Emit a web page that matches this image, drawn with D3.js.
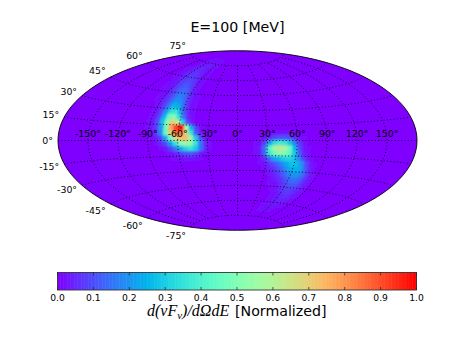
<!DOCTYPE html>
<html><head><meta charset="utf-8">
<script src="https://cdn.jsdelivr.net/npm/d3@7"></script>
<style>html,body{margin:0;padding:0;background:#fff}svg{display:block}text{font-family:"DejaVu Sans";fill:#000}</style>
</head><body><svg id="c" width="463" height="349"></svg>
<script>
const titleText = "E=100 [MeV]";
const lonTicks = [-150,-120,-90,-60,-30,0,30,60,90,120,150];
const latTicks = [-75,-60,-45,-30,-15,0,15,30,45,60,75];
const barTicks = [0,0.1,0.2,0.3,0.4,0.5,0.6,0.7,0.8,0.9,1.0];

// intensity in percent of the maximum, cell centres in degrees
const westLons = [-112.5,-107.5,-102.5,-97.5,-92.5,-87.5,-82.5,-77.5,-72.5,-67.5,-62.5,-57.5,-52.5,-47.5,-42.5,-37.5,-32.5,-27.5,-22.5,-17.5];
const westLats = [77.5,72.5,67.5,62.5,57.5,52.5,47.5,42.5,37.5,32.5,27.5,22.5,17.5,12.5,7.5,2.5,-2.5,-7.5,-12.5,-17.5];
const westValues = [
 [0,0,1,1,1,2,2,2,2,2,2,1,1,1],
 [0,1,1,2,3,3,4,4,4,3,3,2,1,1],
 [1,1,2,3,4,5,6,5,4,3,2,1,1],
 [0,1,2,3,5,6,7,7,6,4,2,1,1],
 [0,1,1,2,4,6,8,9,8,6,3,2,1],
 [0,0,1,2,3,6,9,11,11,8,5,2,1],
 [0,0,1,1,2,5,8,12,14,12,7,3,1],
 [0,0,0,1,2,4,8,13,17,15,9,4,2,1],
 [0,0,0,1,2,4,8,14,20,19,12,5,2,1],
 [0,0,0,0,1,3,8,16,26,25,15,6,2,1],
 [0,0,0,0,1,3,9,20,34,36,22,9,3,1],
 [0,0,0,0,1,3,9,25,45,50,34,14,4,1],
 [0,0,0,0,1,3,10,28,52,68,60,32,10,3],
 [0,0,0,0,1,3,8,22,50,78,92,100,55,24,8,2],
 [0,0,0,0,0,2,6,18,45,68,85,85,68,36,12,3,1],
 [0,0,0,0,0,1,3,8,22,45,65,72,72,58,30,10,2],
 [0,0,0,0,0,0,1,4,9,20,35,50,56,52,36,16,5,1],
 [0,0,0,0,0,0,0,1,3,8,15,24,32,36,30,15,5,1],
 [0,0,0,0,0,0,0,0,1,2,4,7,10,11,8,3,1],
 [0,0,0,0,0,0,0,0,0,1,1,2,3,3,2,1]
];
const eastLons = [17.5,22.5,27.5,32.5,37.5,42.5,47.5,52.5,57.5,62.5,67.5,72.5,77.5,82.5,87.5,92.5,97.5];
const eastLats = [7.5,2.5,-2.5,-7.5,-12.5,-17.5,-22.5,-27.5,-32.5,-37.5,-42.5,-47.5,-52.5,-57.5,-62.5,-67.5];
const eastValues = [
 [0,0,0,1,2,2,2,2,1],
 [0,1,2,5,9,11,11,9,5,2,1],
 [1,2,8,22,34,38,36,28,16,6,2],
 [1,3,14,42,56,62,58,46,26,9,3,1],
 [1,3,12,36,46,52,50,44,30,12,4,1],
 [0,1,5,13,22,26,30,32,30,20,9,3,1],
 [0,1,2,5,9,13,18,24,28,27,20,9,3,1],
 [0,0,1,3,5,8,12,18,24,26,23,13,5,1],
 [0,0,0,1,3,5,8,12,17,20,20,15,8,3,1],
 [0,0,0,0,1,3,5,7,11,14,15,13,7,3,1],
 [0,0,0,0,1,1,2,4,7,10,11,10,6,3,1],
 [0,0,0,0,0,1,1,3,5,7,8,7,5,3,1],
 [0,0,0,0,0,0,1,2,3,5,6,6,4,3,1],
 [0,0,0,0,0,0,1,2,3,4,4,4,3,2,1],
 [0,0,0,0,0,1,2,2,3,3,3,2,1,1],
 [0,0,0,0,0,1,1,2,2,2,1,1]
];

const rainbow = t => {
  const r = Math.min(1, Math.abs(2*t-0.5)), g = Math.sin(Math.PI*t), b = Math.cos(Math.PI*t/2);
  return d3.rgb(255*r,255*g,255*b)+"";
};
const aitoff = (l,p) => {
  const a = Math.acos(Math.cos(p)*Math.cos(l/2));
  const s = a ? Math.sin(a)/a : 1;
  return [2*Math.cos(p)*Math.sin(l/2)/s, Math.sin(p)/s];
};
const cx = 237.5, cy = 140.5;
const projection = d3.geoProjection(aitoff).scale(179.5/Math.PI).translate([cx,cy]).precision(0.1);
const path = d3.geoPath(projection);
const svg = d3.select("#c");
const defs = svg.append("defs");
defs.append("clipPath").attr("id","globe").append("path").attr("d",path({type:"Sphere"}));
defs.append("filter").attr("id","soft").attr("x","-20%").attr("y","-20%").attr("width","140%").attr("height","140%")
  .append("feGaussianBlur").attr("stdDeviation",0.9);

svg.append("path").attr("d",path({type:"Sphere"})).attr("fill",rainbow(0));

const cells = [];
[[westLons,westLats,westValues],[eastLons,eastLats,eastValues]].forEach(([lons,lats,vals])=>{
  vals.forEach((row,i)=>row.forEach((v,j)=>{ if(v>0) cells.push({lon:lons[j],lat:lats[i],v:v/100}); }));
});
const half = 2.5;
const cellPath = d => {
  const pts = [];
  for(let k=0;k<=4;k++) pts.push([d.lon-half+k*half/2,d.lat+half]);
  for(let k=4;k>=0;k--) pts.push([d.lon-half+k*half/2,d.lat-half]);
  return d3.line()(pts.map(projection))+"Z";
};
svg.append("g").attr("clip-path","url(#globe)").append("g").attr("filter","url(#soft)")
  .selectAll("path").data(cells.sort((a,b)=>a.v-b.v)).join("path")
  .attr("d",cellPath).attr("fill",d=>rainbow(d.v)).attr("stroke",d=>rainbow(d.v)).attr("stroke-width",0.6);

// graticule
const grid = svg.append("g").attr("fill","none").attr("stroke","#000").attr("stroke-width",1).attr("stroke-dasharray","1 2.3").attr("opacity",0.85);
latTicks.forEach(lat=>{
  grid.append("path").attr("d",path({type:"LineString",coordinates:d3.range(-179.99,180,2).map(l=>[l,lat])}));
});
lonTicks.forEach(lon=>{
  grid.append("path").attr("d",path({type:"LineString",coordinates:d3.range(-75,75.01,2.5).map(l=>[lon,l])}));
});
svg.append("path").attr("d",path({type:"Sphere"})).attr("fill","none").attr("stroke","#000").attr("stroke-width",0.9);

// labels
const deg = v => v+"\u00b0";
svg.append("g").attr("font-size",9.4).selectAll("text").data(lonTicks).join("text")
  .attr("x",d=>projection([d,0])[0]).attr("y",137).attr("text-anchor","middle").text(deg);
svg.append("g").attr("font-size",9.4).selectAll("text").data(latTicks).join("text")
  .attr("x",d=>projection([-179.99,d])[0]-5)
  .attr("y",d=>cy-1.1*(cy-projection([-179.99,d])[1])+3.5)
  .attr("text-anchor","end").text(deg);
svg.append("text").attr("x",237.5).attr("y",32).attr("text-anchor","middle").attr("font-size",14.2).text(titleText);

// colour bar
const barX = d3.scaleLinear().domain([0,1]).range([57.5,416.5]);
const barTop = 272.5, barBottom = 290;
const steps = d3.range(256).map(i=>i/255);
svg.append("g").selectAll("rect").data(steps).join("rect")
  .attr("x",d=>barX(d*255/256)).attr("width",360/256+0.5).attr("y",barTop).attr("height",barBottom-barTop).attr("fill",rainbow);
svg.append("rect").attr("x",57.5).attr("y",barTop).attr("width",359).attr("height",barBottom-barTop).attr("fill","none").attr("stroke","#333").attr("stroke-width",0.9);
const ticks = svg.append("g").attr("stroke","#222").attr("stroke-width",0.7);
barTicks.forEach(t=>{
  ticks.append("line").attr("x1",barX(t)).attr("x2",barX(t)).attr("y1",barTop).attr("y2",barTop+3);
  ticks.append("line").attr("x1",barX(t)).attr("x2",barX(t)).attr("y1",barBottom).attr("y2",barBottom-3);
});
svg.append("g").attr("font-size",9.2).selectAll("text").data(barTicks).join("text")
  .attr("x",d=>barX(d)).attr("y",301).attr("text-anchor","middle").text(d=>d.toFixed(1));
const lab = svg.append("text").attr("x",147).attr("y",315.5).attr("text-anchor","start").attr("font-size",14.2);
const math = t => lab.append("tspan").attr("font-family","Liberation Serif").attr("font-style","italic").attr("font-size",16).text(t);
math("d(\u03bdF");
lab.append("tspan").attr("font-family","Liberation Serif").attr("font-style","italic").attr("font-size",11).attr("dy",3).text("\u03bd");
math(")/d\u03a9dE").attr("dy",-3);
lab.append("tspan").attr("x",235).text("[Normalized]");
</script></body></html>
